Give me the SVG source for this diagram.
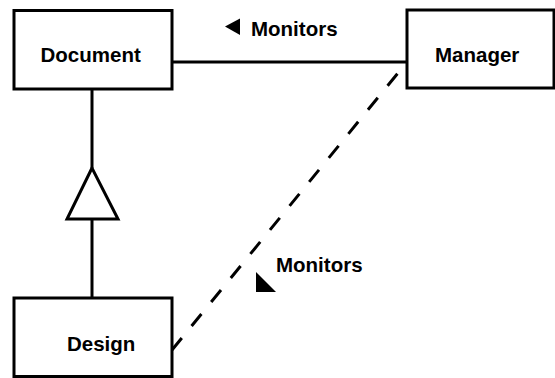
<svg xmlns="http://www.w3.org/2000/svg" width="555" height="378" viewBox="0 0 555 378">
<style>
.box{fill:#fff;stroke:#000;stroke-width:3}
.lbl{font-family:"Liberation Sans",Arial,Helvetica,sans-serif;font-weight:bold;font-size:20.5px;fill:#000}
.ln{stroke:#000;stroke-width:3;fill:none}
.dash{stroke-dasharray:15.5,15.5}
</style>
<rect width="555" height="378" fill="#fff"/>
<g id="connectors">
<line class="ln" x1="172" y1="62" x2="407" y2="62"/>
<line class="ln" x1="92" y1="89" x2="92" y2="168"/>
<polygon class="ln" points="92,168 67,219 118,219" fill="#fff"/>
<line class="ln" x1="92" y1="219" x2="92" y2="298"/>
<line class="ln dash" x1="172" y1="350" x2="407" y2="62"/>
<polygon points="225,26.5 240,18.5 240,35" fill="#000"/>
<text class="lbl" x="251" y="36">Monitors</text>
<polygon points="256,272 256,292 276,292" fill="#000"/>
<text class="lbl" x="276" y="272">Monitors</text>
</g>
<g id="document">
<rect class="box" x="14" y="10.5" width="158" height="78.5"/>
<text class="lbl" x="40.5" y="62">Document</text>
</g>
<g id="manager">
<rect class="box" x="407" y="10" width="147" height="78"/>
<text class="lbl" x="435" y="62">Manager</text>
</g>
<g id="design">
<rect class="box" x="14" y="298" width="158" height="78.5"/>
<text class="lbl" x="67" y="351">Design</text>
</g>
</svg>
